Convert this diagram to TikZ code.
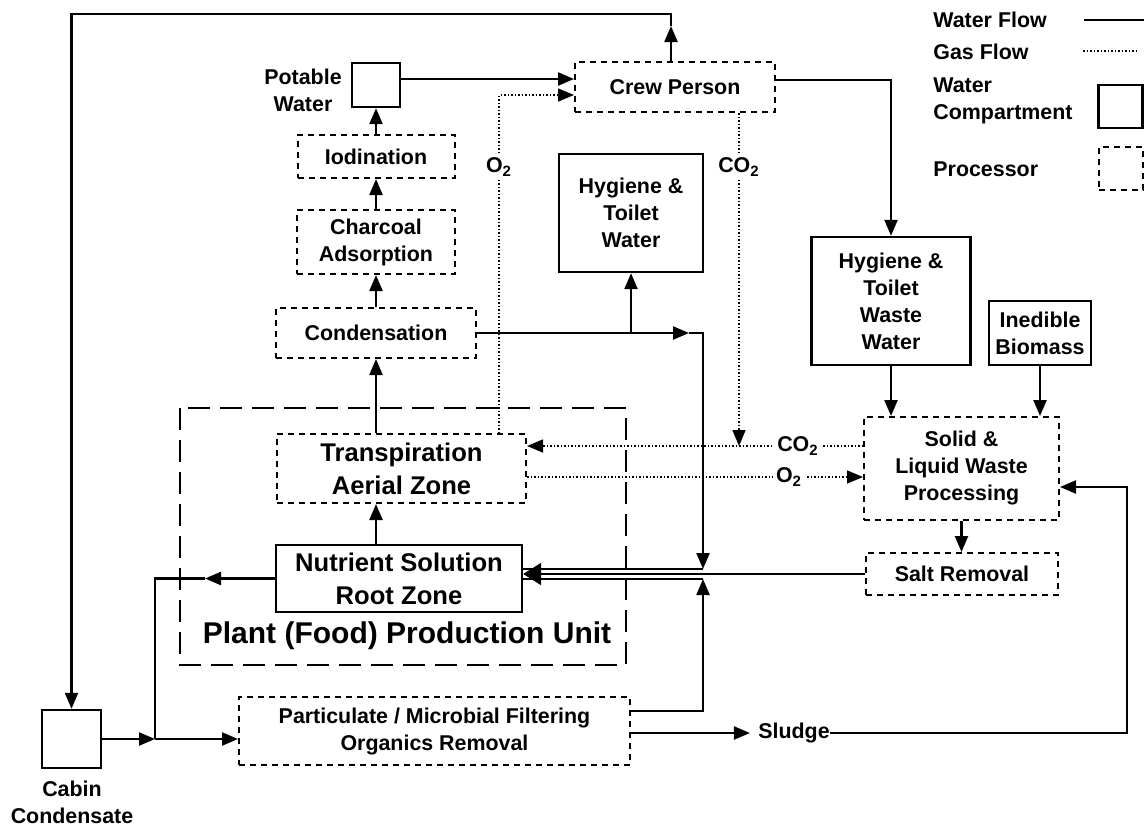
\documentclass[tikz,border=0pt]{standalone}
\usepackage{fontspec}
\setmainfont{Liberation Sans}
\usetikzlibrary{arrows.meta}
\begin{document}
\begin{tikzpicture}[x=0.5pt,y=-0.5pt,
	>={Triangle[length=8pt,width=6.5pt]},
	every node/.style={font=\bfseries\fontsize{10.7}{13.5}\selectfont,align=center,inner sep=0pt},
	tank/.style={draw,line width=1.2pt},
	proc/.style={draw,line width=1pt,dash pattern=on 3pt off 2.5pt},
	plant/.style={line width=1pt,dash pattern=on 11pt off 5pt},
	water/.style={line width=1.15pt},
	gas/.style={line width=0.75pt,densely dotted},
	glabel/.style={fill=white,inner sep=1.5pt},
	bigtext/.style={font=\bfseries\fontsize{12.8}{16.5}\selectfont}]
	\useasboundingbox (0,0) rectangle (1144,825);
	\node[proc,minimum width=100pt,minimum height=25pt] (crew) at (675,87) {Crew Person};
	\node[tank,minimum width=24pt,minimum height=22pt] (potable) at (376,85) {};
	\node (potlbl) at (303,90) {Potable\\Water};
	\node[proc,minimum width=78.5pt,minimum height=21.5pt] (iodin) at (376,156.5) {Iodination};
	\node[proc,minimum width=79pt,minimum height=32pt] (charcoal) at (376,242) {Charcoal\\Adsorption};
	\node[proc,minimum width=100pt,minimum height=25pt] (condens) at (376,333) {Condensation};
	\node[proc,bigtext,minimum width=124.5pt,minimum height=34.5pt] (transp) at (401.5,468.5) {Transpiration\\Aerial Zone};
	\node[tank,bigtext,minimum width=123pt,minimum height=33.5pt] (nutrient) at (399,578.5) {Nutrient Solution\\Root Zone};
	\draw[plant] (180,408) rectangle (626,665);
	\node[font=\bfseries\fontsize{15}{18}\selectfont] (unit) at (407,636) {Plant (Food) Production Unit};
	\node[tank,minimum width=72pt,minimum height=59pt] (hygwater) at (631,213) {Hygiene \&\\Toilet\\Water};
	\node[tank,minimum width=79.5pt,minimum height=64pt] (hygwaste) at (891,301) {Hygiene \&\\Toilet\\Waste\\Water};
	\node[tank,minimum width=51pt,minimum height=32pt] (inedible) at (1040,333) {Inedible\\Biomass};
	\node[proc,minimum width=97.5pt,minimum height=51.5pt] (solid) at (961.5,468.5) {Solid \&\\Liquid Waste\\Processing};
	\node[proc,minimum width=96pt,minimum height=21pt] (salt) at (962,574) {Salt Removal};
	\node[proc,minimum width=195.5pt,minimum height=34pt] (partic) at (434.5,731) {Particulate / Microbial Filtering\\Organics Removal};
	\node[tank,minimum width=29.5pt,minimum height=29pt] (cabin) at (71.5,739) {};
	\node (cablbl) at (72,802) {Cabin\\Condensate};
	\node (sludge) at (794,733) {Sludge};
	\node[anchor=west] (lgwater) at (933,20) {Water Flow};
	\node[anchor=west] (lggas) at (933,52) {Gas Flow};
	\node[anchor=west,align=left] (lgtank) at (933,101) {Water\\Compartment};
	\node[anchor=west] (lgproc) at (933,169) {Processor};
	\node[tank,minimum width=22pt,minimum height=21.5pt] (lgtankbox) at (1120.5,106.5) {};
	\node[proc,minimum width=22pt,minimum height=21.5pt] (lgprocbox) at (1120.5,168.5) {};
	\coordinate (lgw1) at (1084,20);
	\coordinate (lgw2) at (1144,20);
	\coordinate (lgg1) at (1083,51);
	\coordinate (lgg2) at (1138,51);
	\draw[water] (lgw1) -- (lgw2);
	\draw[gas] (lgg1) -- (lgg2);
	\coordinate (topr) at (671,14);
	\coordinate (topl) at (71.5,14);
	\coordinate (crewup) at (671,26);
	\draw[water,->] (crew.north -| topr) -- (crewup);
	\draw[water,->] (crewup) -- (topr) -- (topl) -- (cabin.north);
	\coordinate (pwout) at ([yshift=3pt]potable.east);
	\draw[water,->] (pwout) -- (pwout -| crew.west);
	\coordinate (o2c) at (499,95);
	\draw[gas,->] (transp.north -| o2c) -- (o2c) -- (o2c -| crew.west);
	\draw[water,->] (iodin.north) -- (potable.south);
	\draw[water,->] (charcoal.north) -- (iodin.south);
	\draw[water,->] (condens.north) -- (charcoal.south);
	\draw[water,->] (condens.south |- transp.north) -- (condens.south);
	\draw[water,->] (condens.south |- nutrient.north) -- (condens.south |- transp.south);
	\coordinate (cj) at (703,333);
	\coordinate (cjarr) at (689,333);
	\coordinate (nj1) at (703,569);
	\coordinate (pj) at (703,711);
	\coordinate (nj2) at (703,579);
	\draw[water,->] (condens.east) -- (cjarr);
	\draw[water,->] (cjarr) -- (cj) -- (nj1);
	\draw[water,->] (hygwater.south |- cj) -- (hygwater.south);
	\draw[water,->] (partic.east |- pj) -- (pj) -- (nj2);
	\draw[water,-{Triangle[length=9pt,width=11pt]}] (salt.west) -- (nutrient.east |- salt.west);
	\draw[water] (nj1) -- (nutrient.east |- nj1);
	\draw[water] (nj2) -- (nutrient.east |- nj2);
	\coordinate (cj2) at (155,739);
	\coordinate (nwarr) at (205,578.5);
	\draw[water,->] (nutrient.west) -- (nwarr);
	\draw[water] (nwarr) -- (nwarr -| cj2) -- (cj2);
	\draw[water,->] (cabin.east) -- (cj2);
	\draw[water,->] (cj2) -- (partic.west |- cj2);
	\draw[water,->] (partic.east |- sludge) -- ([xshift=-4pt]sludge.west);
	\coordinate (sl) at (1127,487);
	\draw[water,->] (sludge.east) -- (sludge.east -| sl) -- (sl) -- (sl -| solid.east);
	\coordinate (cw) at (891,80);
	\draw[water,->] (crew.east |- cw) -- (cw) -- (hygwaste.north);
	\draw[water,->] (hygwaste.south) -- (hygwaste.south |- solid.north);
	\draw[water,->] (inedible.south) -- (inedible.south |- solid.north);
	\draw[water,->] (solid.south) -- (solid.south |- salt.north);
	\coordinate (co2j) at (739,446);
	\coordinate (o2j) at (789,477);
	\draw[gas,->] (crew.south -| co2j) -- (co2j);
	\draw[gas,->] (solid.west |- co2j) -- (transp.east |- co2j);
	\draw[gas,->] (transp.east |- o2j) -- (solid.west |- o2j);
	\node[glabel] (o2up) at (499,167) {O\textsubscript{2}};
	\node[glabel] (co2up) at (739,167) {CO\textsubscript{2}};
	\node[glabel] (co2mid) at (798,446) {CO\textsubscript{2}};
	\node[glabel] (o2mid) at (789,477) {O\textsubscript{2}};
\end{tikzpicture}
\end{document}
